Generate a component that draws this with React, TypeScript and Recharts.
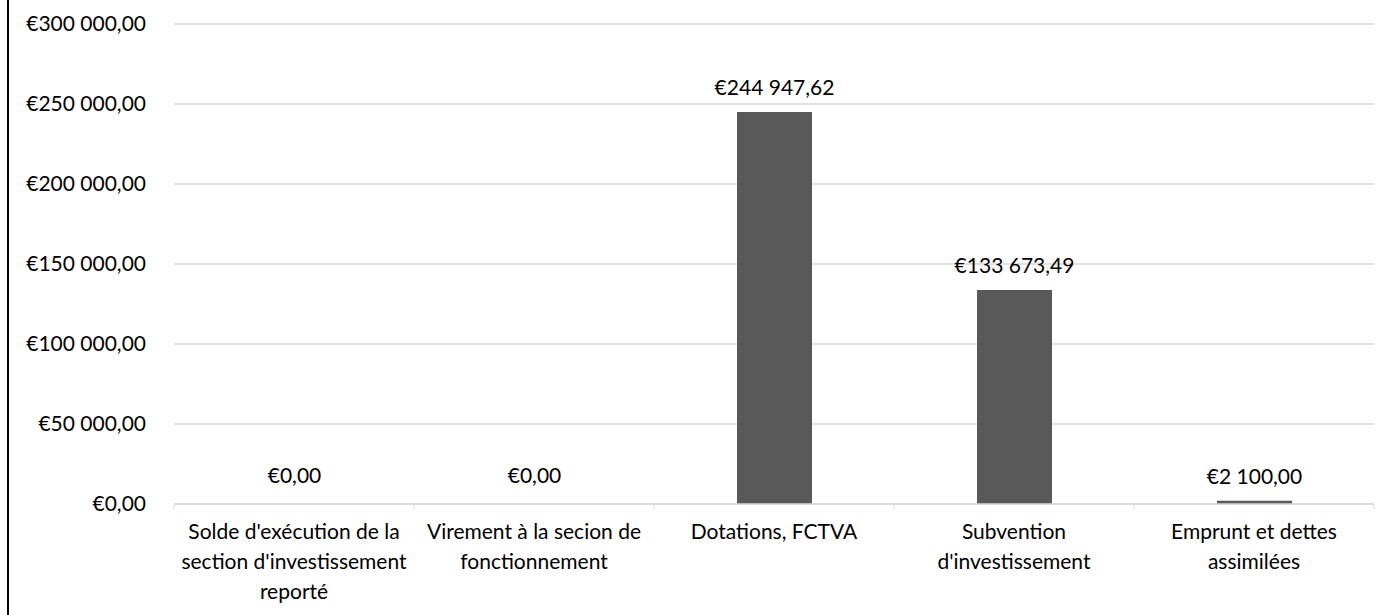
import { Bar, BarChart, CartesianGrid, LabelList, XAxis, YAxis } from "recharts";

const categories = [
  "Solde d'exécution de la section d'investissement reporté",
  "Virement à la secion de fonctionnement",
  "Dotations, FCTVA",
  "Subvention d'investissement",
  "Emprunt et dettes assimilées",
];
const categoryLines = [
  ["Solde d'exécution de la", "section d'investissement", "reporté"],
  ["Virement à la secion de", "fonctionnement"],
  ["Dotations, FCTVA"],
  ["Subvention", "d'investissement"],
  ["Emprunt et dettes", "assimilées"],
];
const amounts = [0, 0, 244947.62, 133673.49, 2100];
const yTicks = [0, 50000, 100000, 150000, 200000, 250000, 300000];

const W = 1398;
const H = 615;
const M = { top: 24, right: 24, left: 0, bottom: 0 };
const Y_W = 174;
const FONT = "Lato, 'Open Sans', sans-serif";
const FS = 21;
const GRID = "#d9d9d9";

const band = (W - Y_W - M.right) / categories.length;

function euro(v: number) {
  const [int, dec] = Math.abs(v).toFixed(2).split(".");
  const grouped = int.replace(/\B(?=(\d{3})+(?!\d))/g, " ");
  return "€" + grouped + "," + dec;
}

function CatTick(props: any) {
  const { x, y, index } = props;
  const lines = categoryLines[index] ?? [];
  const last = index === categories.length - 1;
  return (
    <g>
      <line x1={x - band / 2} x2={x - band / 2} y1={y} y2={y + 5} stroke={GRID} />
      {last && <line x1={x + band / 2} x2={x + band / 2} y1={y} y2={y + 5} stroke={GRID} />}
      {lines.map((t, i) => (
        <text
          key={i}
          x={x}
          y={y + 35 + i * 30}
          textAnchor="middle"
          fontFamily={FONT}
          fontSize={FS}
          fill="#000"
        >
          {t}
        </text>
      ))}
    </g>
  );
}

function ValueLabel(props: any) {
  const { x, y, width, value } = props;
  if (x == null || y == null) return null;
  // zero bars sit on the axis; Excel puts their label a bit higher
  const gap = Number(value) === 0 ? 21 : 17;
  return (
    <text
      x={Number(x) + Number(width) / 2}
      y={Number(y) - gap}
      textAnchor="middle"
      fontFamily={FONT}
      fontSize={FS}
      fill="#000"
    >
      {euro(Number(value))}
    </text>
  );
}

export default function App() {
  const data = categories.map((name, i) => ({ name, value: amounts[i] }));

  return (
    <div style={{ position: "fixed", left: 0, top: 0, width: W, height: H, background: "#fff" }}>
      <div style={{ position: "absolute", left: 7, top: 0, bottom: 0, borderLeft: "2px solid #000" }} />
      <BarChart width={W} height={H} data={data} margin={M} barSize={75}>
        <CartesianGrid vertical={false} stroke={GRID} strokeWidth={1.5} />
        <XAxis
          dataKey="name"
          height={111}
          interval={0}
          axisLine={{ stroke: GRID, strokeWidth: 1.5 }}
          tickLine={false}
          tickSize={0}
          tickMargin={0}
          tick={<CatTick />}
        />
        <YAxis
          width={Y_W}
          domain={[0, 300000]}
          ticks={yTicks}
          interval={0}
          axisLine={false}
          tickLine={false}
          tickSize={0}
          tickMargin={28}
          tickFormatter={euro}
          tick={{ fill: "#000", fontSize: FS, fontFamily: FONT }}
        />
        <Bar
          dataKey="value"
          fill="#595959"
          minPointSize={(v: any) => (Number(v) === 0 ? 0.01 : 0)}
          isAnimationActive={false}
        >
          <LabelList dataKey="value" content={<ValueLabel />} />
        </Bar>
      </BarChart>
    </div>
  );
}
